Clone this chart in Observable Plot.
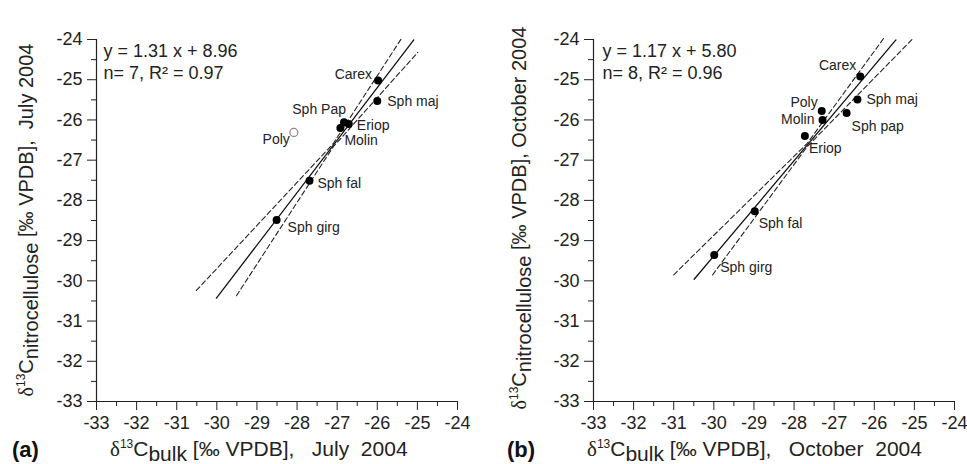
<!DOCTYPE html>
<html>
<head>
<meta charset="utf-8">
<script src="https://cdn.jsdelivr.net/npm/d3@7"></script>
<script src="https://cdn.jsdelivr.net/npm/@observablehq/plot@0.6"></script>
<style>
  body { margin: 0; background: #fff; }
  #wrap { position: relative; width: 967px; height: 464px; overflow: hidden; }
  #pa, #pb { position: absolute; top: 0; }
  #pa { left: 0; }
  #pb { left: 483px; }
  svg text { white-space: pre; }
</style>
</head>
<body>
<div id="wrap"><div id="pa"></div><div id="pb"></div></div>
<script>
// ---------- data ----------
const julyNames = ["Carex", "Sph maj", "Sph Pap", "Eriop", "Molin", "Poly", "Sph fal", "Sph girg"];
const julyBulk  = [-25.98, -26.00, -26.83, -26.71, -26.92, -28.08, -27.69, -28.51];
const julyCell  = [-25.02, -25.53, -26.06, -26.10, -26.20, -26.31, -27.51, -28.49];
const julyInFit = [true, true, true, true, true, false, true, true];

const octNames = ["Carex", "Sph maj", "Poly", "Molin", "Sph pap", "Eriop", "Sph fal", "Sph girg"];
const octBulk  = [-26.35, -26.42, -27.31, -27.29, -26.69, -27.73, -28.98, -29.99];
const octCell  = [-24.92, -25.49, -25.78, -26.00, -25.83, -26.40, -28.27, -29.36];
const octInFit = [true, true, true, true, true, true, true, true];

// regression lines and confidence bands
const julyFitX   = [-30.01, -25.09];
const julyFitY   = [-30.43, -24.01];
const julyUpperX = [-30.51, -27.10, -25.40];
const julyUpperY = [-30.24, -26.59, -23.98];
const julyLowerX = [-29.51, -27.10, -24.99];
const julyLowerY = [-30.37, -26.67, -24.32];

const octFitX   = [-30.49, -25.46];
const octFitY   = [-29.96, -24.01];
const octUpperX = [-31.00, -27.67, -25.75];
const octUpperY = [-29.85, -26.58, -23.95];
const octLowerX = [-30.03, -27.67, -25.04];
const octLowerY = [-29.85, -26.66, -23.98];

const julyEquation = ["y = 1.31 x + 8.96", "n= 7, R² = 0.97"];
const octEquation  = ["y = 1.17 x + 5.80", "n= 8, R² = 0.96"];

const majorTicks = [-33, -32, -31, -30, -29, -28, -27, -26, -25, -24];
const minorTicks = [-32.5, -31.5, -30.5, -29.5, -28.5, -27.5, -26.5, -25.5, -24.5];

// ---------- label placement (style) ----------
const julyLabelStyle = {
  "Carex":   {anchor: "end",   dx: -6, dy: -6},
  "Sph maj": {anchor: "start", dx: 10, dy: 0},
  "Sph Pap": {anchor: "end",   dx: 2,  dy: -13},
  "Eriop":   {anchor: "start", dx: 8,  dy: 2},
  "Molin":   {anchor: "start", dx: 4,  dy: 13},
  "Poly":    {anchor: "end",   dx: -4, dy: 7},
  "Sph fal": {anchor: "start", dx: 8,  dy: 3},
  "Sph girg":{anchor: "start", dx: 11, dy: 7}
};
const octLabelStyle = {
  "Carex":   {anchor: "end",   dx: -4, dy: -11},
  "Sph maj": {anchor: "start", dx: 9,  dy: 0},
  "Poly":    {anchor: "end",   dx: -4, dy: -9},
  "Molin":   {anchor: "end",   dx: -8, dy: 0},
  "Sph pap": {anchor: "start", dx: 5,  dy: 13},
  "Eriop":   {anchor: "start", dx: 4,  dy: 12},
  "Sph fal": {anchor: "start", dx: 4,  dy: 12},
  "Sph girg":{anchor: "start", dx: 6,  dy: 12}
};

const FONT = "'Liberation Sans', Arial, Helvetica, sans-serif";
const SERIF = "'Liberation Serif', 'Times New Roman', serif";

function zip(xs, ys) { return xs.map((x, i) => ({x, y: ys[i]})); }

function panel(opts) {
  const pts = opts.names.map((n, i) => ({name: n, x: opts.bulk[i], y: opts.cell[i], fit: opts.inFit[i]}));
  const labelMarks = pts.map(p => {
    const s = opts.labelStyle[p.name];
    return Plot.text([p], {x: "x", y: "y", text: "name", textAnchor: s.anchor, dx: s.dx, dy: s.dy,
      fontSize: 14, fill: "#222", lineAnchor: "middle"});
  });
  const svg = Plot.plot({
    width: opts.width, height: 464,
    marginLeft: opts.marginLeft, marginRight: opts.marginRight, marginTop: 39, marginBottom: 63,
    style: {fontFamily: FONT, fontSize: "18px", color: "#222", background: "white"},
    x: {domain: [-33, -24]},
    y: {domain: [-33, -24]},
    marks: [
      Plot.axisX({ticks: majorTicks, tickSize: 9, tickPadding: 6, tickFormat: d => String(d), label: null, fontSize: 18, stroke: "#222"}),
      Plot.axisX({ticks: minorTicks, tickSize: 5, tickFormat: () => "", label: null, stroke: "#222"}),
      Plot.axisY({ticks: majorTicks, tickSize: 9, tickPadding: 5, tickFormat: d => String(d), label: null, fontSize: 18, stroke: "#222"}),
      Plot.axisY({ticks: minorTicks, tickSize: 5, tickFormat: () => "", label: null, stroke: "#222"}),
      Plot.ruleX([-33], {stroke: "#222", strokeWidth: 1.2}),
      Plot.ruleY([-33], {stroke: "#222", strokeWidth: 1.2}),
      Plot.line(zip(opts.upperX, opts.upperY), {x: "x", y: "y", stroke: "#222", strokeWidth: 1.1, strokeDasharray: "5,3"}),
      Plot.line(zip(opts.lowerX, opts.lowerY), {x: "x", y: "y", stroke: "#222", strokeWidth: 1.1, strokeDasharray: "5,3"}),
      Plot.line(zip(opts.fitX, opts.fitY), {x: "x", y: "y", stroke: "#111", strokeWidth: 1.3}),
      Plot.dot(pts.filter(p => p.fit), {x: "x", y: "y", r: 4, fill: "#000", stroke: "none"}),
      Plot.dot(pts.filter(p => !p.fit), {x: "x", y: "y", r: 4, fill: "white", stroke: "#888", strokeWidth: 1.2}),
      ...labelMarks,
      Plot.text([opts.equation.join("\n")], {frameAnchor: "top-left", dx: opts.eqDx, dy: 3, lineAnchor: "top",
        textAnchor: "start", fontSize: 18, lineHeight: 1.17, fill: "#222"})
    ]
  });

  const s = d3.select(svg);
  // x-axis title
  const xt = s.append("text").attr("x", opts.xLabelX).attr("y", 456).attr("text-anchor", "start")
    .attr("font-family", FONT).attr("font-size", 21).attr("fill", "#222");
  xt.append("tspan").attr("font-family", SERIF).text("δ");
  xt.append("tspan").attr("font-size", 12).attr("dy", -8).text("13");
  xt.append("tspan").attr("dy", 8).text("C");
  xt.append("tspan").attr("dy", 5).text("bulk");
  xt.append("tspan").attr("dy", -5).text(" [‰ VPDB],   " + opts.period);

  // y-axis title
  const yt = s.append("text").attr("transform", `translate(${opts.yLabelX},${opts.yLabelY}) rotate(-90)`)
    .attr("text-anchor", "middle").attr("font-family", FONT).attr("font-size", 20).attr("fill", "#222");
  yt.append("tspan").attr("font-family", SERIF).text("δ");
  yt.append("tspan").attr("font-size", 12).attr("dy", -8).text("13");
  yt.append("tspan").attr("dy", 8).text("C");
  yt.append("tspan").attr("dy", 5).text("nitrocellulose");
  yt.append("tspan").attr("dy", -5).text(" [‰ VPDB], " + opts.yPeriod);

  // panel letter
  s.append("text").attr("x", opts.letterX).attr("y", 457).attr("text-anchor", "start").attr("font-family", FONT)
    .attr("font-size", 22).attr("font-weight", "bold").attr("fill", "#111").text(opts.letter);
  return svg;
}

document.getElementById("pa").append(panel({
  width: 483, marginLeft: 96, marginRight: 26,
  names: julyNames, bulk: julyBulk, cell: julyCell, inFit: julyInFit, labelStyle: julyLabelStyle,
  fitX: julyFitX, fitY: julyFitY, upperX: julyUpperX, upperY: julyUpperY, lowerX: julyLowerX, lowerY: julyLowerY,
  equation: julyEquation, eqDx: 7,
  xLabelX: 110, period: "July  2004", yLabelX: 33, yLabelY: 220, yPeriod: " July 2004",
  letter: "(a)", letterX: 12
}));
document.getElementById("pb").append(panel({
  width: 484, marginLeft: 110, marginRight: 13,
  names: octNames, bulk: octBulk, cell: octCell, inFit: octInFit, labelStyle: octLabelStyle,
  fitX: octFitX, fitY: octFitY, upperX: octUpperX, upperY: octUpperY, lowerX: octLowerX, lowerY: octLowerY,
  equation: octEquation, eqDx: 9,
  xLabelX: 104, period: "October  2004", yLabelX: 43, yLabelY: 218, yPeriod: "October 2004",
  letter: "(b)", letterX: 24
}));
</script>
</body>
</html>
